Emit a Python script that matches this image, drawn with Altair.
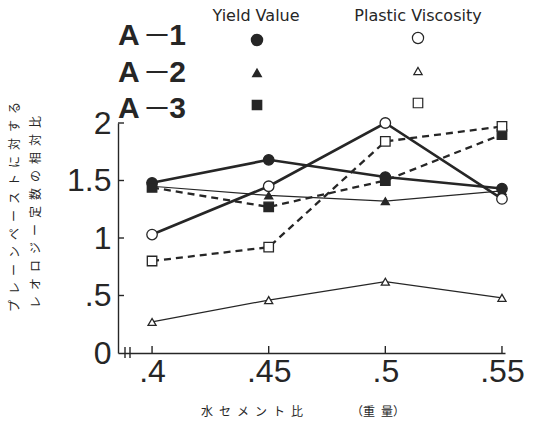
import altair as alt
import pandas as pd

# ---- data ----
x_vals = [0.40, 0.45, 0.50, 0.55]
a1_yield = [1.48, 1.68, 1.53, 1.43]
a1_plastic = [1.03, 1.45, 2.00, 1.34]
a2_yield = [1.45, 1.37, 1.32, 1.41]
a2_plastic = [0.27, 0.46, 0.62, 0.48]
a3_yield = [1.44, 1.27, 1.50, 1.90]
a3_plastic = [0.80, 0.92, 1.84, 1.97]
groups = ["A-1", "A-2", "A-3"]
kinds = ["Yield Value", "Plastic Viscosity"]
y_ticks = [0, 0.5, 1, 1.5, 2]
x_ticks = x_vals
group_letters = ["A", "A", "A"]
group_numbers = ["1", "2", "3"]
y_title_1 = "プレーンペーストに対する"
y_title_2 = "レオロジー定数の相対比"
x_title_1 = "水セメント比"
x_title_2 = "（重量）"

rows = []
for grp, kind, vals in [
    ("A-1", "Yield Value", a1_yield), ("A-1", "Plastic Viscosity", a1_plastic),
    ("A-2", "Yield Value", a2_yield), ("A-2", "Plastic Viscosity", a2_plastic),
    ("A-3", "Yield Value", a3_yield), ("A-3", "Plastic Viscosity", a3_plastic),
]:
    for x, y in zip(x_vals, vals):
        rows.append({"group": grp, "kind": kind, "x": x, "y": y})
df = pd.DataFrame(rows)

W, H = 387, 230
INK = "#262626"
NUMFONT = "Liberation Sans"
JPFONT = "Noto Sans CJK JP"
sp = "\u2002"

xscale = alt.Scale(domain=[0.3854, 0.5513], nice=False, zero=False)
yscale = alt.Scale(domain=[0, 2], nice=False)

xaxis = alt.Axis(values=x_ticks, labelExpr="replace(toString(datum.value), '0.', '.')",
                 ticks=False, grid=False, domainColor=INK, domainWidth=1.4,
                 labelFont=NUMFONT, labelFontSize=32, labelColor=INK, labelPadding=3, title="")
yaxis = alt.Axis(values=y_ticks, labelExpr="replace(toString(datum.value), '0.', '.')",
                 ticks=False, grid=False, domainColor=INK, domainWidth=1.4,
                 labelFont=NUMFONT, labelFontSize=32, labelColor=INK, labelPadding=7, title="")

X = alt.X("x:Q", scale=xscale)
Y = alt.Y("y:Q", scale=yscale)

styles = {"A-1": dict(strokeWidth=2.6), "A-2": dict(strokeWidth=1.2), "A-3": dict(strokeWidth=2.3, strokeDash=[7, 5])}
shape_of = {"A-1": "circle", "A-2": "triangle-up", "A-3": "square"}
size_of = {"A-1": 110, "A-2": 65, "A-3": 90}

base = alt.Chart(df)
layers = [base.mark_line(opacity=0).encode(x=alt.X("x:Q", scale=xscale, axis=xaxis),
                                           y=alt.Y("y:Q", scale=yscale, axis=yaxis))]
for g in groups:
    for k in kinds:
        layers.append(base.transform_filter((alt.datum.group == g) & (alt.datum.kind == k))
                      .mark_line(color=INK, **styles[g]).encode(x=X, y=Y))
for k in kinds:
    for g in groups:
        layers.append(base.transform_filter((alt.datum.group == g) & (alt.datum.kind == k))
                      .mark_point(shape=shape_of[g], size=size_of[g], filled=True,
                                  fill=INK if k == kinds[0] else "white", stroke=INK,
                                  strokeWidth=1.3, opacity=1).encode(x=X, y=Y))

yt = alt.Chart(pd.DataFrame({"y": y_ticks[1:]})).mark_rule(color=INK, strokeWidth=1.4).encode(
    y=Y, x=alt.value(0), x2=alt.value(6))
xt = alt.Chart(pd.DataFrame({"x": x_ticks})).mark_rule(color=INK, strokeWidth=1.4).encode(
    x=X, y=alt.value(H), y2=alt.value(H - 7))

one = pd.DataFrame({"k": [0]})
brk = [
    alt.Chart(one).mark_rule(color=INK, strokeWidth=1.4).encode(x=alt.value(7), y=alt.value(H - 6), y2=alt.value(H + 5)),
    alt.Chart(one).mark_rule(color=INK, strokeWidth=1.4).encode(x=alt.value(12), y=alt.value(H - 6), y2=alt.value(H + 5)),
]

def txt(s, x, y, size, font, weight="normal", align="center", baseline="middle", angle=0):
    kw = dict(fontSize=size, font=font, fontWeight=weight, align=align, baseline=baseline, color=INK)
    if angle:
        kw["angle"] = angle
    return alt.Chart(one).mark_text(**kw).encode(x=alt.value(x), y=alt.value(y), text=alt.value(s))

legend_layers = [
    txt(kinds[0], 138, -107, 16, "DejaVu Sans"),
    txt(kinds[1], 300, -107, 16, "DejaVu Sans"),
]
legend_ys = [-78, -41, -5]
sym_ys = [-83, -50, -18]
sizes = [110, 55, 75]
for let, num, ly, sy, g, sz in zip(group_letters, group_numbers, legend_ys, sym_ys, groups, sizes):
    legend_layers.append(txt(let, 0, ly, 30, "Liberation Sans", weight="bold", align="left", baseline="alphabetic"))
    legend_layers.append(txt("—", 39, ly - 5, 21, "Liberation Sans", weight="bold", align="center", baseline="alphabetic"))
    legend_layers.append(txt(num, 68, ly, 30, "Liberation Sans", weight="bold", align="right", baseline="alphabetic"))
    legend_layers.append(alt.Chart(one).mark_point(shape=shape_of[g], size=sz, filled=True, fill=INK, stroke=INK, opacity=1)
                         .encode(x=alt.value(139), y=alt.value(sy)))
    legend_layers.append(alt.Chart(one).mark_point(shape=shape_of[g], size=sz + 15, filled=True, fill="white", stroke=INK, strokeWidth=1.2, opacity=1)
                         .encode(x=alt.value(300), y=alt.value(sy - 2)))

title_layers = [
    txt(sp.join(y_title_1), -103, 84, 12, JPFONT, angle=270),
    txt(sp.join(y_title_2), -82, 89, 12, JPFONT, angle=270),
    txt(sp.join(x_title_1), 134, 289, 12, JPFONT),
    txt(x_title_2[0] + sp.join(x_title_2[1:-1]) + x_title_2[-1], 260, 289, 12, JPFONT),
]

chart = alt.layer(*layers, yt, xt, *brk, *legend_layers, *title_layers).properties(
    width=W, height=H,
    autosize=alt.AutoSizeParams(type="none"),
    padding={"left": 118, "top": 123, "right": 34, "bottom": 83},
    background="white",
).configure_view(stroke=None)

chart.save("out.html", embed_options={"renderer": "svg", "actions": False})
